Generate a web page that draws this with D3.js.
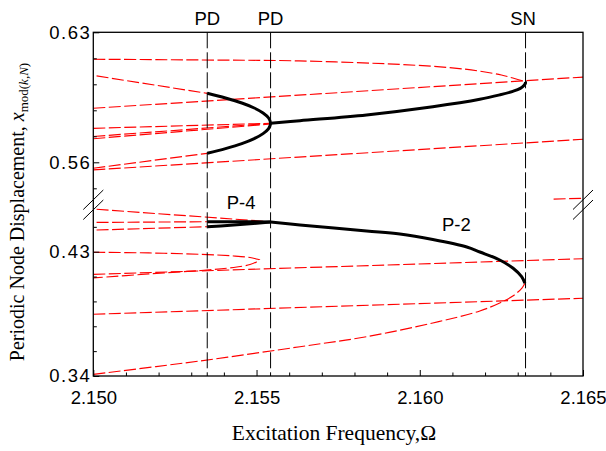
<!DOCTYPE html>
<html><head><meta charset="utf-8">
<script src="https://cdn.jsdelivr.net/npm/d3@7"></script>
<style>html,body{margin:0;padding:0;background:#fff;}svg{display:block;}</style>
</head><body>
<svg id="chart" width="606" height="451"></svg>
<script>
// ---------- data ----------
const xTicks = [2.150, 2.155, 2.160, 2.165];
const xMinorTicks = [2.151,2.152,2.153,2.154,2.156,2.157,2.158,2.159,2.161,2.162,2.163,2.164];
const topTicks = [0.56, 0.63];
const topMinorTicks = [0.546, 0.574, 0.588, 0.602, 0.616];
const botTicks = [0.34, 0.43];
const botMinorTicks = [0.358, 0.376, 0.394, 0.412, 0.448];
const bifX = [2.15349, 2.15543, 2.16324];
const bifLabels = ["PD", "PD", "SN"];
const branchLabels = ["P-4", "P-2"];
const branchLabelPos = [[2.15453, 0.4612], [2.16112, 0.4450]];

// upper segment (stable = black solid, unstable = red dashed)
const topFoldUpper = [[2.1500,0.6155],[2.1533,0.6151],[2.1563,0.6146],[2.1594,0.6127],[2.1609,0.6110],[2.1618,0.6092],[2.1625,0.6070],[2.1629,0.6051],[2.16323,0.6035]];
const topP2Stable = [[2.15543,0.5810],[2.15633,0.5824],[2.15837,0.5855],[2.1604,0.5899],[2.16184,0.5939],[2.16245,0.5963],[2.16285,0.5982],[2.16308,0.5998],[2.16319,0.6014],[2.16324,0.6027],[2.16323,0.6035]];
const topP4Stable = [[2.15349,0.59715],[2.15405,0.59462],[2.15455,0.59193],[2.15493,0.58924],[2.1552,0.58654],[2.15537,0.58385],[2.15543,0.5810],[2.15537,0.57814],[2.1552,0.57545],[2.15493,0.57276],[2.15455,0.57006],[2.15405,0.56737],[2.15349,0.56484]];
const topP4UnstUpper = [[2.1501,0.6065],[2.15349,0.59715]];
const topP4UnstLower = [[2.1500,0.5568],[2.15349,0.56484]];
const topP2Unstable = [[2.1500,0.5783],[2.15543,0.5810]];
const topLineA = [[2.1500,0.5739],[2.15543,0.5810]];
const topLineB = [[2.1500,0.5727],[2.15543,0.5806]];
const topLineC = [[2.1500,0.5891],[2.1650,0.6059]];
const topLineD = [[2.1500,0.5559],[2.1650,0.5724]];
const topLineE = [[2.1641,0.5402],[2.1650,0.5406]];

// lower segment
const botP2Stable = [[2.15543,0.45151],[2.15633,0.44934],[2.15837,0.4450],[2.15939,0.44282],[2.1604,0.43884],[2.16144,0.43341],[2.16184,0.42979],[2.16245,0.4240],[2.16286,0.41799],[2.16312,0.4119],[2.16322,0.40713]];
const botFoldLower = [[2.16322,0.40713],[2.16313,0.4037],[2.16285,0.3979],[2.16245,0.3929],[2.16184,0.3871],[2.1604,0.3784],[2.15838,0.3685],[2.15633,0.3612],[2.15327,0.3509],[2.1500,0.3412]];
const botLoop = [[2.1500,0.4296],[2.1517,0.4291],[2.1533,0.4281],[2.1543,0.4269],[2.1548,0.4258],[2.1550,0.4247],[2.1551,0.4240],[2.1550,0.4226],[2.1548,0.4207],[2.1543,0.4186],[2.1533,0.4164],[2.1517,0.4139],[2.1500,0.4110]];
const botLineA = [[2.1500,0.4136],[2.1650,0.4249]];
const botLineB = [[2.1500,0.3847],[2.1650,0.3963]];
const botP2Unstable = [[2.1501,0.4607],[2.15543,0.4517]];
const botP4UnstUpper = [[2.1501,0.4512],[2.15349,0.4517]];
const botP4UnstLower = [[2.1501,0.4457],[2.15349,0.4481]];
const botP4StableUpper = [[2.15349,0.4517],[2.15446,0.4517],[2.15543,0.45151]];
const botP4StableLower = [[2.15349,0.4481],[2.1542,0.4491],[2.1548,0.4502],[2.15526,0.4511],[2.15543,0.45151]];

const topRed = [topFoldUpper, topP4UnstUpper, topP4UnstLower, topP2Unstable, topLineA, topLineB, topLineC, topLineD, topLineE];
const topBlack = [topP2Stable, topP4Stable];
const botRed = [botFoldLower, botLoop, botLineA, botLineB, botP2Unstable, botP4UnstUpper, botP4UnstLower];
const botBlack = [botP2Stable, botP4StableUpper, botP4StableLower];

// ---------- layout ----------
const L = 93.3, R = 583, T = 32.3, B = 376, breakY = 205;
const svg = d3.select("#chart");
const x = d3.scaleLinear().domain([2.150, 2.165]).range([L, R]);
const yTop = d3.scaleLinear().domain([0.56, 0.63]).range([162.3, T]);
const yBot = d3.scaleLinear().domain([0.34, 0.43]).range([B, 251.7]);

const sans = "'Liberation Sans', Arial, sans-serif";
const serif = "'Liberation Serif', 'Times New Roman', serif";

const defs = svg.append("defs");
defs.append("clipPath").attr("id","clipTop").append("rect").attr("x",L).attr("y",T).attr("width",R-L).attr("height",breakY-T);
defs.append("clipPath").attr("id","clipBot").append("rect").attr("x",L).attr("y",breakY).attr("width",R-L).attr("height",B-breakY);

function drawPanel(clip, yS, reds, blacks) {
  const g = svg.append("g").attr("clip-path", `url(#${clip})`);
  const line = d3.line().x(d => x(d[0])).y(d => yS(d[1])).curve(d3.curveCatmullRom.alpha(0.5));
  g.selectAll("path.red").data(reds).join("path").attr("class","red")
    .attr("d", line).attr("fill","none").attr("stroke","#ff0000")
    .attr("stroke-width",1.15).attr("stroke-dasharray","12,3.5");
  g.selectAll("path.blk").data(blacks).join("path").attr("class","blk")
    .attr("d", line).attr("fill","none").attr("stroke","#000")
    .attr("stroke-width",3).attr("stroke-linecap","butt");
}
drawPanel("clipTop", yTop, topRed, topBlack);
drawPanel("clipBot", yBot, botRed, botBlack);

// vertical bifurcation lines
svg.selectAll("line.bif").data(bifX).join("line").attr("class","bif")
  .attr("x1", d => x(d)).attr("x2", d => x(d)).attr("y1", T).attr("y2", B)
  .attr("stroke","#000").attr("stroke-width",1).attr("stroke-dasharray","16,4");
svg.selectAll("text.bif").data(bifLabels).join("text").attr("class","bif")
  .attr("x", (d,i) => x(bifX[i]) - (d === "SN" ? 2.5 : 0)).attr("y", 24.5)
  .attr("text-anchor","middle").attr("font-family",sans).attr("font-size",18.5)
  .text(d => d);

// branch labels
svg.selectAll("text.br").data(branchLabels).join("text").attr("class","br")
  .attr("x", (d,i) => x(branchLabelPos[i][0])).attr("y", (d,i) => yBot(branchLabelPos[i][1]))
  .attr("text-anchor","middle").attr("font-family",sans).attr("font-size",18.5)
  .text(d => d);

// frame
svg.append("rect").attr("x",L).attr("y",T).attr("width",R-L).attr("height",B-T)
  .attr("fill","none").attr("stroke","#000").attr("stroke-width",1.3);

// axes
function styleAxis(g) { g.select(".domain").remove(); g.selectAll("line").attr("stroke","#000").attr("stroke-width",1); g.selectAll("text").attr("font-family",sans).attr("font-size",18.5).attr("fill","#000"); }
svg.append("g").attr("transform",`translate(0,${B})`)
  .call(d3.axisBottom(x).tickValues(xTicks).tickFormat(d3.format(".3f")).tickSize(-6).tickPadding(15)).call(styleAxis);
svg.append("g").attr("transform",`translate(0,${B})`)
  .call(d3.axisBottom(x).tickValues(xMinorTicks).tickFormat("").tickSize(-3.5)).call(styleAxis);
[[yTop, topTicks, topMinorTicks], [yBot, botTicks, botMinorTicks]].forEach(([ys, maj, mnr]) => {
  const gm = svg.append("g").attr("transform",`translate(${L},0)`)
    .call(d3.axisLeft(ys).tickValues(maj).tickFormat(d3.format(".2f")).tickSize(-6).tickPadding(2)).call(styleAxis);
  gm.selectAll("text").attr("font-size",18.5).attr("letter-spacing","1.5px");
  svg.append("g").attr("transform",`translate(${L},0)`)
    .call(d3.axisLeft(ys).tickValues(mnr).tickFormat("").tickSize(-3.5)).call(styleAxis);
});

// break marks
[L, R].forEach(bx => {
  [0, 10].forEach(off => {
    svg.append("line").attr("x1", bx - 10).attr("y1", breakY + 4.5 + off).attr("x2", bx + 10).attr("y2", breakY - 15 + off)
      .attr("stroke","#000").attr("stroke-width",1);
  });
});

// axis titles
svg.append("text").attr("x", 334).attr("y", 440).attr("text-anchor","middle")
  .attr("font-family",serif).attr("font-size",21.5).text("Excitation Frequency,Ω");
const yt = svg.append("text").attr("transform","translate(24,212) rotate(-90)").attr("text-anchor","middle")
  .attr("font-family",serif).attr("font-size",20);
yt.append("tspan").text("Periodic Node Displacement, ");
yt.append("tspan").attr("font-style","italic").text("x");
yt.append("tspan").attr("font-size",13).attr("dy",4).text("mod(");
yt.append("tspan").attr("font-size",13).attr("font-style","italic").text("k,N");
yt.append("tspan").attr("font-size",13).text(")");
</script>
</body></html>
